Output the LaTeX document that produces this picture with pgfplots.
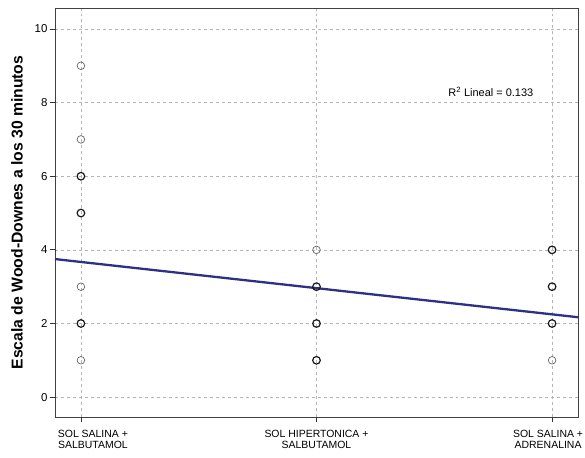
\documentclass[border=0pt]{standalone}
\usepackage{fontspec}
\setmainfont{Liberation Sans}
\usepackage{pgfplots}
\pgfplotsset{compat=1.18}
\definecolor{regline}{HTML}{2E3182}
\definecolor{gridc}{HTML}{B4B4B4}
\tikzset{xlabnode/.style={anchor=north, inner sep=0pt, align=center, yshift=-13bp, font=\fontsize{10.5}{11}\selectfont}}
\begin{document}
\begin{tikzpicture}
\useasboundingbox (-55bp,-41bp) rectangle (530bp,417bp);
\begin{axis}[
  at={(0,0)}, anchor=south west,
  scale only axis, width=523bp, height=409bp,
  xmin=0.89, xmax=3.11, ymin=-0.54, ymax=10.57,
  xtick={1,2,3},
  xticklabels={},
  ytick={0,2,4,6,8,10},
  yticklabel style={font=\fontsize{11.5}{12}\selectfont, xshift=1bp},
  /pgf/number format/assume math mode=true,
  tick align=outside, tick pos=left,
  major tick length=5bp,
  tick style={black!80, line width=0.8pt},
  axis line style={black!75, line width=0.8pt},
  grid=major,
  major grid style={gridc, dashed, line width=0.5pt},
  ylabel={\bfseries Escala de Wood-Downes a los 30 minutos},
  ylabel style={font=\fontsize{15.8}{17}\selectfont, yshift=5bp},
  clip=false,
]
\addplot[only marks, mark=o, mark size=3.8bp, mark options={black!60, line width=0.7pt}]
  coordinates {(1,1) (1,3) (1,7) (1,9) (2,4) (3,1)};
\addplot[only marks, mark=o, mark size=3.8bp, mark options={black!90, line width=1.2pt}]
  coordinates {(1,2) (1,5) (1,6) (2,1) (2,2) (2,3) (3,2) (3,3) (3,4)};
\addplot[regline, line width=2.3pt] coordinates {(0.89,3.75) (3.11,2.17)};
\node[font=\fontsize{11}{12}\selectfont, black] at (axis cs:2.74,8.29) {R$^{\mathrm{2}}$ Lineal = 0.133};
\node[xlabnode] at (axis cs:1.051,-0.54) {SOL SALINA +\\SALBUTAMOL};
\node[xlabnode] at (axis cs:2.0,-0.54) {SOL HIPERTONICA +\\SALBUTAMOL};
\node[xlabnode] at (axis cs:2.983,-0.54) {SOL SALINA +\\ADRENALINA};
\end{axis}
\end{tikzpicture}
\end{document}
